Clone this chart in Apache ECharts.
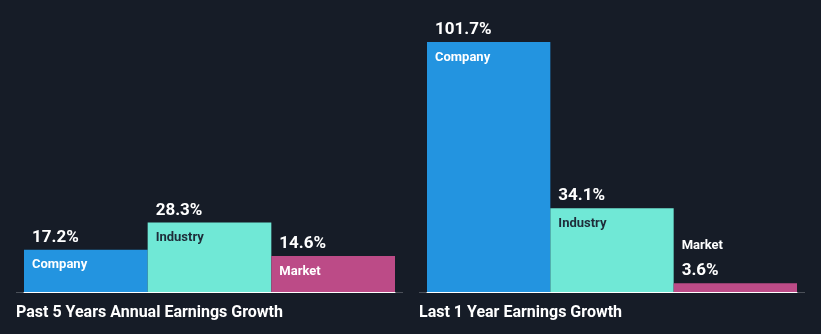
<!DOCTYPE html>
<html>
<head>
<meta charset="utf-8">
<script src="https://cdn.jsdelivr.net/npm/echarts@6/dist/echarts.min.js"></script>
<style>
  html, body { margin: 0; padding: 0; background: #161c27; }
  #chart { width: 821px; height: 334px; }
</style>
</head>
<body>
<div id="chart"></div>
<script>
// Earnings growth: company vs industry vs market
const categories = ['Company', 'Industry', 'Market'];
const past5Years = [17.2, 28.3, 14.6];
const last1Year = [101.7, 34.1, 3.6];
const panelTitles = ['Past 5 Years Annual Earnings Growth', 'Last 1 Year Earnings Growth'];

const barColors = ['#2394e0', '#70e8d6', '#bc4b87'];
const nameColors = ['#ffffff', '#1e2c39', '#ffffff'];
const FONT = 'Roboto, "Noto Sans", sans-serif';
const Y_MAX = 101.7;

const chart = echarts.init(document.getElementById('chart'), null, { renderer: 'canvas' });

const grids = [
  { left: 24, width: 371, top: 42, bottom: 42 },
  { left: 427, width: 370, top: 42, bottom: 42 }
];

function valueSeries(values, gi) {
  return {
    type: 'bar',
    xAxisIndex: gi, yAxisIndex: gi,
    barWidth: '100%', barGap: '-100%',
    animation: false,
    silent: true,
    data: values.map((v, i) => ({
      value: v,
      itemStyle: { color: barColors[i] }
    })),
    label: {
      show: true,
      position: [8, -12],
      align: 'left', verticalAlign: 'middle',
      formatter: p => p.value.toFixed(1) + '%',
      color: '#ffffff',
      fontFamily: FONT, fontWeight: 'bold', fontSize: 17
    }
  };
}

function nameSeries(values, gi) {
  return {
    type: 'bar',
    xAxisIndex: gi, yAxisIndex: gi,
    barWidth: '100%', barGap: '-100%',
    animation: false,
    silent: true,
    itemStyle: { color: 'rgba(0,0,0,0)' },
    data: values.map((v, i) => {
      const short = v < 8;
      return {
        value: v,
        label: {
          position: short ? [8, -37.5] : [8, 15.5],
          color: short ? '#ffffff' : nameColors[i]
        }
      };
    }),
    label: {
      show: true,
      align: 'left', verticalAlign: 'middle',
      formatter: p => categories[p.dataIndex],
      fontFamily: FONT, fontWeight: 'bold', fontSize: 13
    }
  };
}

const option = {
  backgroundColor: '#161c27',
  animation: false,
  grid: grids,
  title: panelTitles.map((t, i) => ({
    text: t,
    left: i === 0 ? 16 : 419,
    top: 304.5,
    padding: 0,
    textStyle: { color: '#ffffff', fontFamily: FONT, fontWeight: 'bold', fontSize: 16 }
  })),
  xAxis: [0, 1].map(gi => ({
    type: 'category',
    gridIndex: gi,
    data: categories,
    boundaryGap: true,
    axisLine: { show: true, lineStyle: { color: '#ffffff', width: 1 } },
    axisTick: { show: false },
    axisLabel: { show: false },
    splitLine: { show: false }
  })),
  yAxis: [0, 1].map(gi => ({
    type: 'value',
    gridIndex: gi,
    min: 0, max: Y_MAX,
    show: false,
    splitLine: { show: false }
  })),
  graphic: [
    { type: 'line', shape: { x1: 16, y1: 292.5, x2: 403, y2: 292.5 }, style: { stroke: '#4b5059', lineWidth: 1 }, z: 0 },
    { type: 'line', shape: { x1: 419, y1: 292.5, x2: 805, y2: 292.5 }, style: { stroke: '#4b5059', lineWidth: 1 }, z: 0 }
  ],
  series: [
    valueSeries(past5Years, 0), nameSeries(past5Years, 0),
    valueSeries(last1Year, 1), nameSeries(last1Year, 1)
  ]
};

chart.setOption(option);
</script>
</body>
</html>
